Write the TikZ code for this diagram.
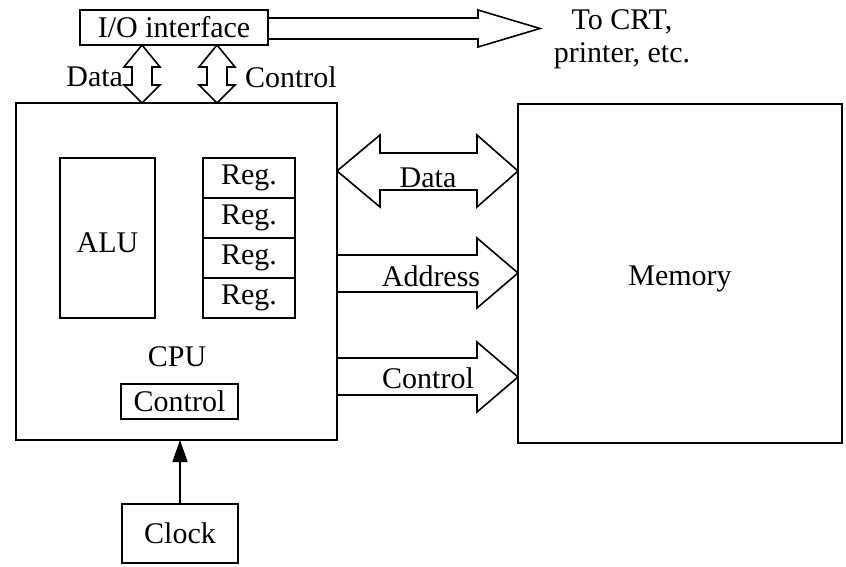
\documentclass[tikz,border=0pt]{standalone}
\usepackage{fontspec}
\setmainfont{Liberation Serif}
\usetikzlibrary{arrows.meta,calc}
\begin{document}
\begin{tikzpicture}[x=1pt,y=-1pt,
  every node/.style={font=\fontsize{30}{33}\selectfont, inner sep=0pt, outer sep=0pt},
  blk/.style={draw, line width=1.8pt, minimum width=#1},
  bus/.style={draw, line width=1.6pt, line join=miter}]
\useasboundingbox (0,0) rectangle (846,567);
% boxes
\node[blk=188pt, minimum height=35pt] (io) at (174,27.5) {I/O interface};
\node[blk=321pt, minimum height=337pt] (cpu) at (176.5,271.5) {};
\node[blk=324pt, minimum height=339pt] (mem) at (680,273.5) {\raisebox{-5pt}[20pt][7pt]{Memory}};
\node[blk=95pt, minimum height=160pt] (alu) at (107.5,238) {\raisebox{-4pt}[20pt][0pt]{ALU}};
\node[blk=92pt, minimum height=40pt] (r1) at (249,178) {Reg.};
\node[blk=92pt, minimum height=40pt] (r2) at (249,218) {Reg.};
\node[blk=92pt, minimum height=40pt] (r3) at (249,258) {Reg.};
\node[blk=92pt, minimum height=40pt] (r4) at (249,298) {Reg.};
\node (cpulbl) at (177,357) {CPU};
\node[blk=117pt, minimum height=35pt] (ctrl) at (179.5,401.5) {Control};
\node[blk=116pt, minimum height=59pt] (clock) at (180,533.5) {Clock};
\node[align=center] (crt) at (622,39) {To CRT,\\printer, etc.};
% I/O to CRT arrow
\draw[bus] (io.east |- 0,18) -- (478,18) -- (478,10) -- (540,28.5) -- (478,47) -- (478,39) -- (io.east |- 0,39);
% vertical double arrows between I/O and CPU
\foreach \xx in {142, 217}{
  \draw[bus] (io.south -| \xx,0) -- ++(18,22) -- ++(-8,0) -- ++(0,18) -- ++(8,0)
     -- (cpu.north -| \xx,0) -- ++(-18,-18) -- ++(8,0) -- ++(0,-18) -- ++(-8,0) -- cycle;
}
\node[anchor=east] (dlbl) at (123,77) {Data};
\node[anchor=west] (clbl) at (245,77) {Control};
% Data bus (double)
\draw[bus] (cpu.east |- 0,171) -- (380,135) -- (380,153) -- (477,153) -- (477,135)
   -- (mem.west |- 0,171) -- (477,207) -- (477,190) -- (380,190) -- (380,207) -- cycle;
% Address bus
\draw[bus] (cpu.east |- 0,255) -- (477,255) -- (477,238) -- (mem.west |- 0,273) -- (477,308) -- (477,292) -- (cpu.east |- 0,292);
% Control bus
\draw[bus] (cpu.east |- 0,358) -- (477,358) -- (477,342) -- (mem.west |- 0,377) -- (477,412) -- (477,395) -- (cpu.east |- 0,395);
\node (ddata) at (428,178) {Data};
\node (daddr) at (431,276) {Address};
\node (dctrl) at (428,378) {Control};
% clock
\draw[line width=1.6pt, -{Triangle[length=22pt,width=15pt]}] (clock.north) -- (clock.north |- cpu.south);
\end{tikzpicture}
\end{document}
